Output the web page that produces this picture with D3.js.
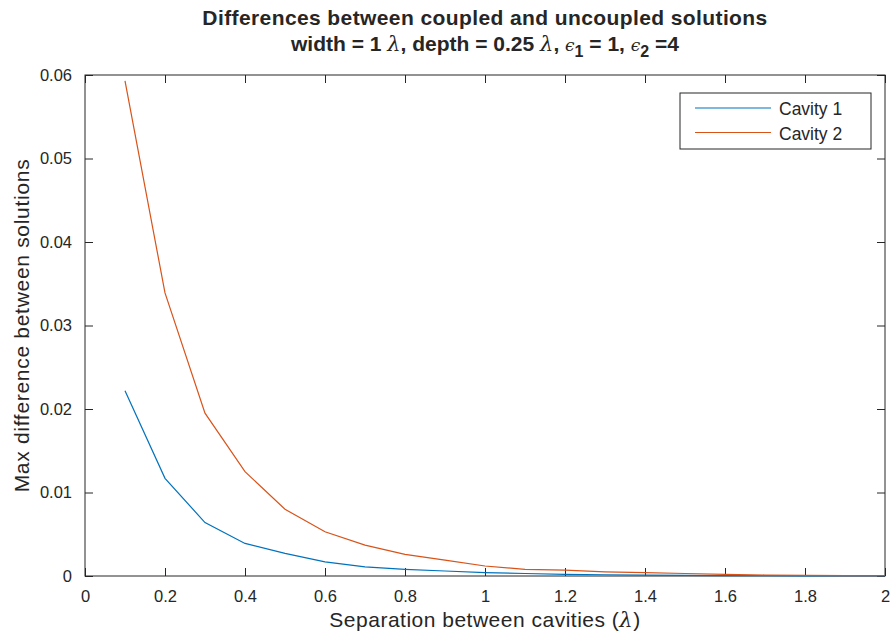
<!DOCTYPE html>
<html>
<head>
<meta charset="utf-8">
<script src="https://cdn.jsdelivr.net/npm/d3@7"></script>
<style>
  body { margin: 0; background: #fff; }
  text { font-family: "Liberation Sans", Arial, sans-serif; fill: #262626; }
</style>
</head>
<body>
<div id="chart"></div>
<script>
// data
let separation = [0.1, 0.2, 0.3, 0.4, 0.5, 0.6, 0.7, 0.8, 0.9, 1.0,
    1.1, 1.2, 1.3, 1.4, 1.5, 1.6, 1.7, 1.8, 1.9, 2.0];
let cavity1 = [0.0222, 0.0117, 0.0064, 0.0039, 0.0027, 0.0017, 0.0011, 0.0008, 0.0006, 0.0004,
    0.0003, 0.0002, 0.00015, 0.0001, 0.00008, 0.00005, 0.00003, 0.00002, 0.00001, 0.00001];
let cavity2 = [0.0593, 0.0339, 0.0195, 0.0125, 0.0080, 0.0053, 0.0037, 0.0026, 0.0019, 0.0012,
    0.0008, 0.0007, 0.0005, 0.0004, 0.0003, 0.0002, 0.00012, 0.00008, 0.00005, 0.00003];
let seriesNames = ['Cavity 1', 'Cavity 2'];
let seriesColors = ['#0072BD', '#D95319'];
let xTicks = [0, 0.2, 0.4, 0.6, 0.8, 1, 1.2, 1.4, 1.6, 1.8, 2];
let yTicks = [0, 0.01, 0.02, 0.03, 0.04, 0.05, 0.06];

let svgWidth = 896;
let svgHeight = 643;
let margin = { top: 75, right: 11, bottom: 67, left: 85 };
let width = svgWidth - margin.left - margin.right;
let height = svgHeight - margin.top - margin.bottom;

let svg = d3.select('#chart').append('svg')
    .attr('width', svgWidth)
    .attr('height', svgHeight);

let chartGroup = svg.append('g')
    .attr('transform', `translate(${margin.left}, ${margin.top})`);

let xScale = d3.scaleLinear().domain([0, 2]).range([0, width]);
let yScale = d3.scaleLinear().domain([0, 0.06]).range([height, 0]);

let fmt = d => d === 0 ? '0' : String(d);

// axes, ticks inside like matlab
function styleAxis(g) {
    g.select('.domain').remove();
    g.selectAll('line').attr('stroke', '#262626');
    g.selectAll('text').style('font-size', '16.5px').attr('fill', '#262626');
}

chartGroup.append('g')
    .attr('transform', `translate(0, ${height})`)
    .call(d3.axisBottom(xScale).tickValues(xTicks).tickFormat(fmt).tickSizeInner(-8).tickPadding(14))
    .call(styleAxis);
chartGroup.append('g')
    .call(d3.axisTop(xScale).tickValues(xTicks).tickFormat('').tickSizeInner(-8))
    .call(styleAxis);
chartGroup.append('g')
    .call(d3.axisLeft(yScale).tickValues(yTicks).tickFormat(fmt).tickSizeInner(-8).tickPadding(13))
    .call(styleAxis);
chartGroup.append('g')
    .attr('transform', `translate(${width}, 0)`)
    .call(d3.axisRight(yScale).tickValues(yTicks).tickFormat('').tickSizeInner(-8))
    .call(styleAxis);

// box
chartGroup.append('rect')
    .attr('width', width)
    .attr('height', height)
    .attr('fill', 'none')
    .attr('stroke', '#262626')
    .attr('stroke-width', 1);

// lines
let line = d3.line()
    .x(d => xScale(d[0]))
    .y(d => yScale(d[1]));

[cavity1, cavity2].forEach(function (vals, i) {
    chartGroup.append('path')
        .datum(separation.map((s, j) => [s, vals[j]]))
        .attr('fill', 'none')
        .attr('stroke', seriesColors[i])
        .attr('stroke-width', 1.2)
        .attr('d', line);
});

// legend
let legend = svg.append('g').attr('transform', 'translate(680, 93)');
legend.append('rect')
    .attr('width', 191)
    .attr('height', 56)
    .attr('fill', '#fff')
    .attr('stroke', '#262626')
    .attr('stroke-width', 1);
seriesNames.forEach(function (name, i) {
    let y = 15 + i * 24.5;
    legend.append('line')
        .attr('x1', 15).attr('x2', 91)
        .attr('y1', y).attr('y2', y)
        .attr('stroke', seriesColors[i])
        .attr('stroke-width', 1.2);
    legend.append('text')
        .attr('x', 99)
        .attr('y', y + 7)
        .style('font-size', '17.5px')
        .text(name);
});

// title
let cx = margin.left + width / 2;
let lam = '"DejaVu Serif", serif';
svg.append('text')
    .attr('x', cx).attr('y', 25)
    .attr('text-anchor', 'middle')
    .style('font-size', '21px').style('font-weight', 'bold')
    .style('letter-spacing', '0.4px')
    .text('Differences between coupled and uncoupled solutions');

let t2 = svg.append('text')
    .attr('x', cx).attr('y', 51)
    .attr('text-anchor', 'middle')
    .style('font-size', '21px').style('font-weight', 'bold');
t2.append('tspan').text('width = 1 ');
t2.append('tspan').style('font-family', lam).style('font-style', 'italic').style('font-weight', 'normal').text('λ');
t2.append('tspan').text(', depth = 0.25 ');
t2.append('tspan').style('font-family', lam).style('font-style', 'italic').style('font-weight', 'normal').text('λ');
t2.append('tspan').text(', ');
t2.append('tspan').style('font-family', lam).style('font-style', 'italic').style('font-weight', 'normal').style('font-size', '17px').text('ϵ');
t2.append('tspan').attr('dy', 6).style('font-size', '16px').text('1');
t2.append('tspan').attr('dy', -6).text(' = 1, ');
t2.append('tspan').style('font-family', lam).style('font-style', 'italic').style('font-weight', 'normal').style('font-size', '17px').text('ϵ');
t2.append('tspan').attr('dy', 6).style('font-size', '16px').text('2');
t2.append('tspan').attr('dy', -6).text(' =4');

// axis labels
let xl = svg.append('text')
    .attr('x', cx).attr('y', 627)
    .attr('text-anchor', 'middle')
    .style('font-size', '21px')
    .style('letter-spacing', '0.5px');
xl.append('tspan').text('Separation between cavities (');
xl.append('tspan').style('font-family', lam).style('font-style', 'italic').text('λ');
xl.append('tspan').text(')');

svg.append('text')
    .attr('transform', `translate(29, ${margin.top + height / 2}) rotate(-90)`)
    .attr('text-anchor', 'middle')
    .style('font-size', '21px')
    .style('letter-spacing', '0.7px')
    .text('Max difference between solutions');
</script>
</body>
</html>
